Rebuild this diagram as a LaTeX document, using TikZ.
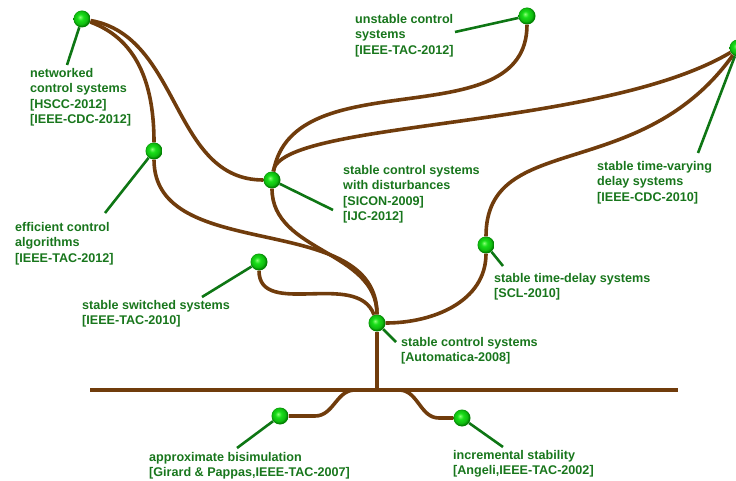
\documentclass[tikz,border=0pt]{standalone}
\usepackage{fontspec}
\setmainfont{Liberation Sans}
\definecolor{barkbrown}{RGB}{112,60,12}
\definecolor{twiggreen}{RGB}{14,118,20}
\definecolor{labelgreen}{RGB}{24,118,28}
\definecolor{leafhi}{RGB}{140,255,120}
\definecolor{leafmid}{RGB}{25,222,25}
\definecolor{leafedge}{RGB}{0,125,0}
\pgfdeclareradialshading{leafball}{\pgfqpoint{-6bp}{6bp}}{color(0bp)=(leafhi); color(9bp)=(leafmid); color(19bp)=(leafmid!65!leafedge); color(25bp)=(leafedge); color(50bp)=(leafedge)}
\tikzstyle{leaf} = [
circle,
minimum size=17pt,
inner sep=0pt,
shading=leafball
]
\tikzstyle{paper} = [
anchor=north west,
inner sep=0pt,
align=left,
text=labelgreen,
font=\fontsize{12.6}{15.4}\selectfont\bfseries
]
\tikzstyle{branch} = [
draw=barkbrown,
line width=3.6pt
]
\tikzstyle{twig} = [
draw=twiggreen,
line width=2.6pt
]

\begin{document}
\begin{tikzpicture}[x=1pt,y=1pt]
	\useasboundingbox (0,0) rectangle (736,480);
	
	\node[leaf] (net) at (82,461) {};
	\node[leaf] (unst) at (527,464) {};
	\node[leaf] (tvar) at (738,432) {};
	\node[leaf] (eff) at (154,329) {};
	\node[leaf] (dist) at (272,300) {};
	\node[leaf] (tdel) at (486,235) {};
	\node[leaf] (swit) at (259,218) {};
	\node[leaf] (root) at (377,157) {};
	\node[leaf] (bisim) at (280,64) {};
	\node[leaf] (incr) at (462,62) {};
	
	\coordinate (gl) at (90,90);
	\coordinate (gr) at (678,90);
	\coordinate (base) at (377,90);
	
	\draw[branch] (gl) -- (gr);
	\draw[branch] (base) -- (root);
	\draw[branch] (base) -- ++(-22,0) to[out=180,in=0] ++(-40,-26) -- (bisim);
	\draw[branch] (base) -- ++(22,0) to[out=0,in=180] ++(40,-28) -- (incr);
	\path[branch] (root) edge[out=0,in=-90] (tdel) edge[out=110,in=-90] (swit) edge[out=90,in=-90] (eff) edge[out=90,in=-90] (dist);
	\path[branch] (eff) edge[out=90,in=-20] (net);
	\path[branch] (net) edge[out=-10,in=180] (dist);
	\path[branch] (dist) edge[out=80,in=-90] (unst);
	\draw[branch] (dist) .. controls (280,360) and (600,350) .. (tvar);
	\draw[branch] (tdel) .. controls (486,350) and (640,295) .. (tvar);
	
	\node[paper] (netlbl) at (30,412) {networked\\control systems\\{}[HSCC-2012]\\{}[IEEE-CDC-2012]};
	\node[paper] (unstlbl) at (355,466) {unstable control\\systems\\{}[IEEE-TAC-2012]};
	\node[paper] (tvarlbl) at (597,319) {stable time-varying\\delay systems\\{}[IEEE-CDC-2010]};
	\node[paper] (efflbl) at (15,258) {efficient control\\algorithms\\{}[IEEE-TAC-2012]};
	\node[paper] (distlbl) at (343,315) {stable control systems\\with disturbances\\{}[SICON-2009]\\{}[IJC-2012]};
	\node[paper] (tdellbl) at (494,207) {stable time-delay systems\\{}[SCL-2010]};
	\node[paper] (switlbl) at (82,180) {stable switched systems\\{}[IEEE-TAC-2010]};
	\node[paper] (rootlbl) at (401,143) {stable control systems\\{}[Automatica-2008]};
	\node[paper] (bisimlbl) at (149,28) {approximate bisimulation\\{}[Girard \& Pappas,IEEE-TAC-2007]};
	\node[paper] (incrlbl) at (453,30) {incremental stability\\{}[Angeli,IEEE-TAC-2002]};
	
	\coordinate (netend) at (67,415);
	\coordinate (unstend) at (455,448);
	\coordinate (tvarend) at (698,327);
	\coordinate (effend) at (105,267);
	\coordinate (distend) at (333,270);
	\coordinate (tdelend) at (503,214);
	\coordinate (switend) at (202,183);
	\coordinate (rootend) at (396,138);
	\coordinate (bisimend) at (237,32);
	\coordinate (incrend) at (503,33);
	
	\draw[twig] (net) -- (netend);
	\draw[twig] (unst) -- (unstend);
	\draw[twig] (tvar) -- (tvarend);
	\draw[twig] (eff) -- (effend);
	\draw[twig] (dist) -- (distend);
	\draw[twig] (tdel) -- (tdelend);
	\draw[twig] (swit) -- (switend);
	\draw[twig] (root) -- (rootend);
	\draw[twig] (bisim) -- (bisimend);
	\draw[twig] (incr) -- (incrend);
\end{tikzpicture}
\end{document}
